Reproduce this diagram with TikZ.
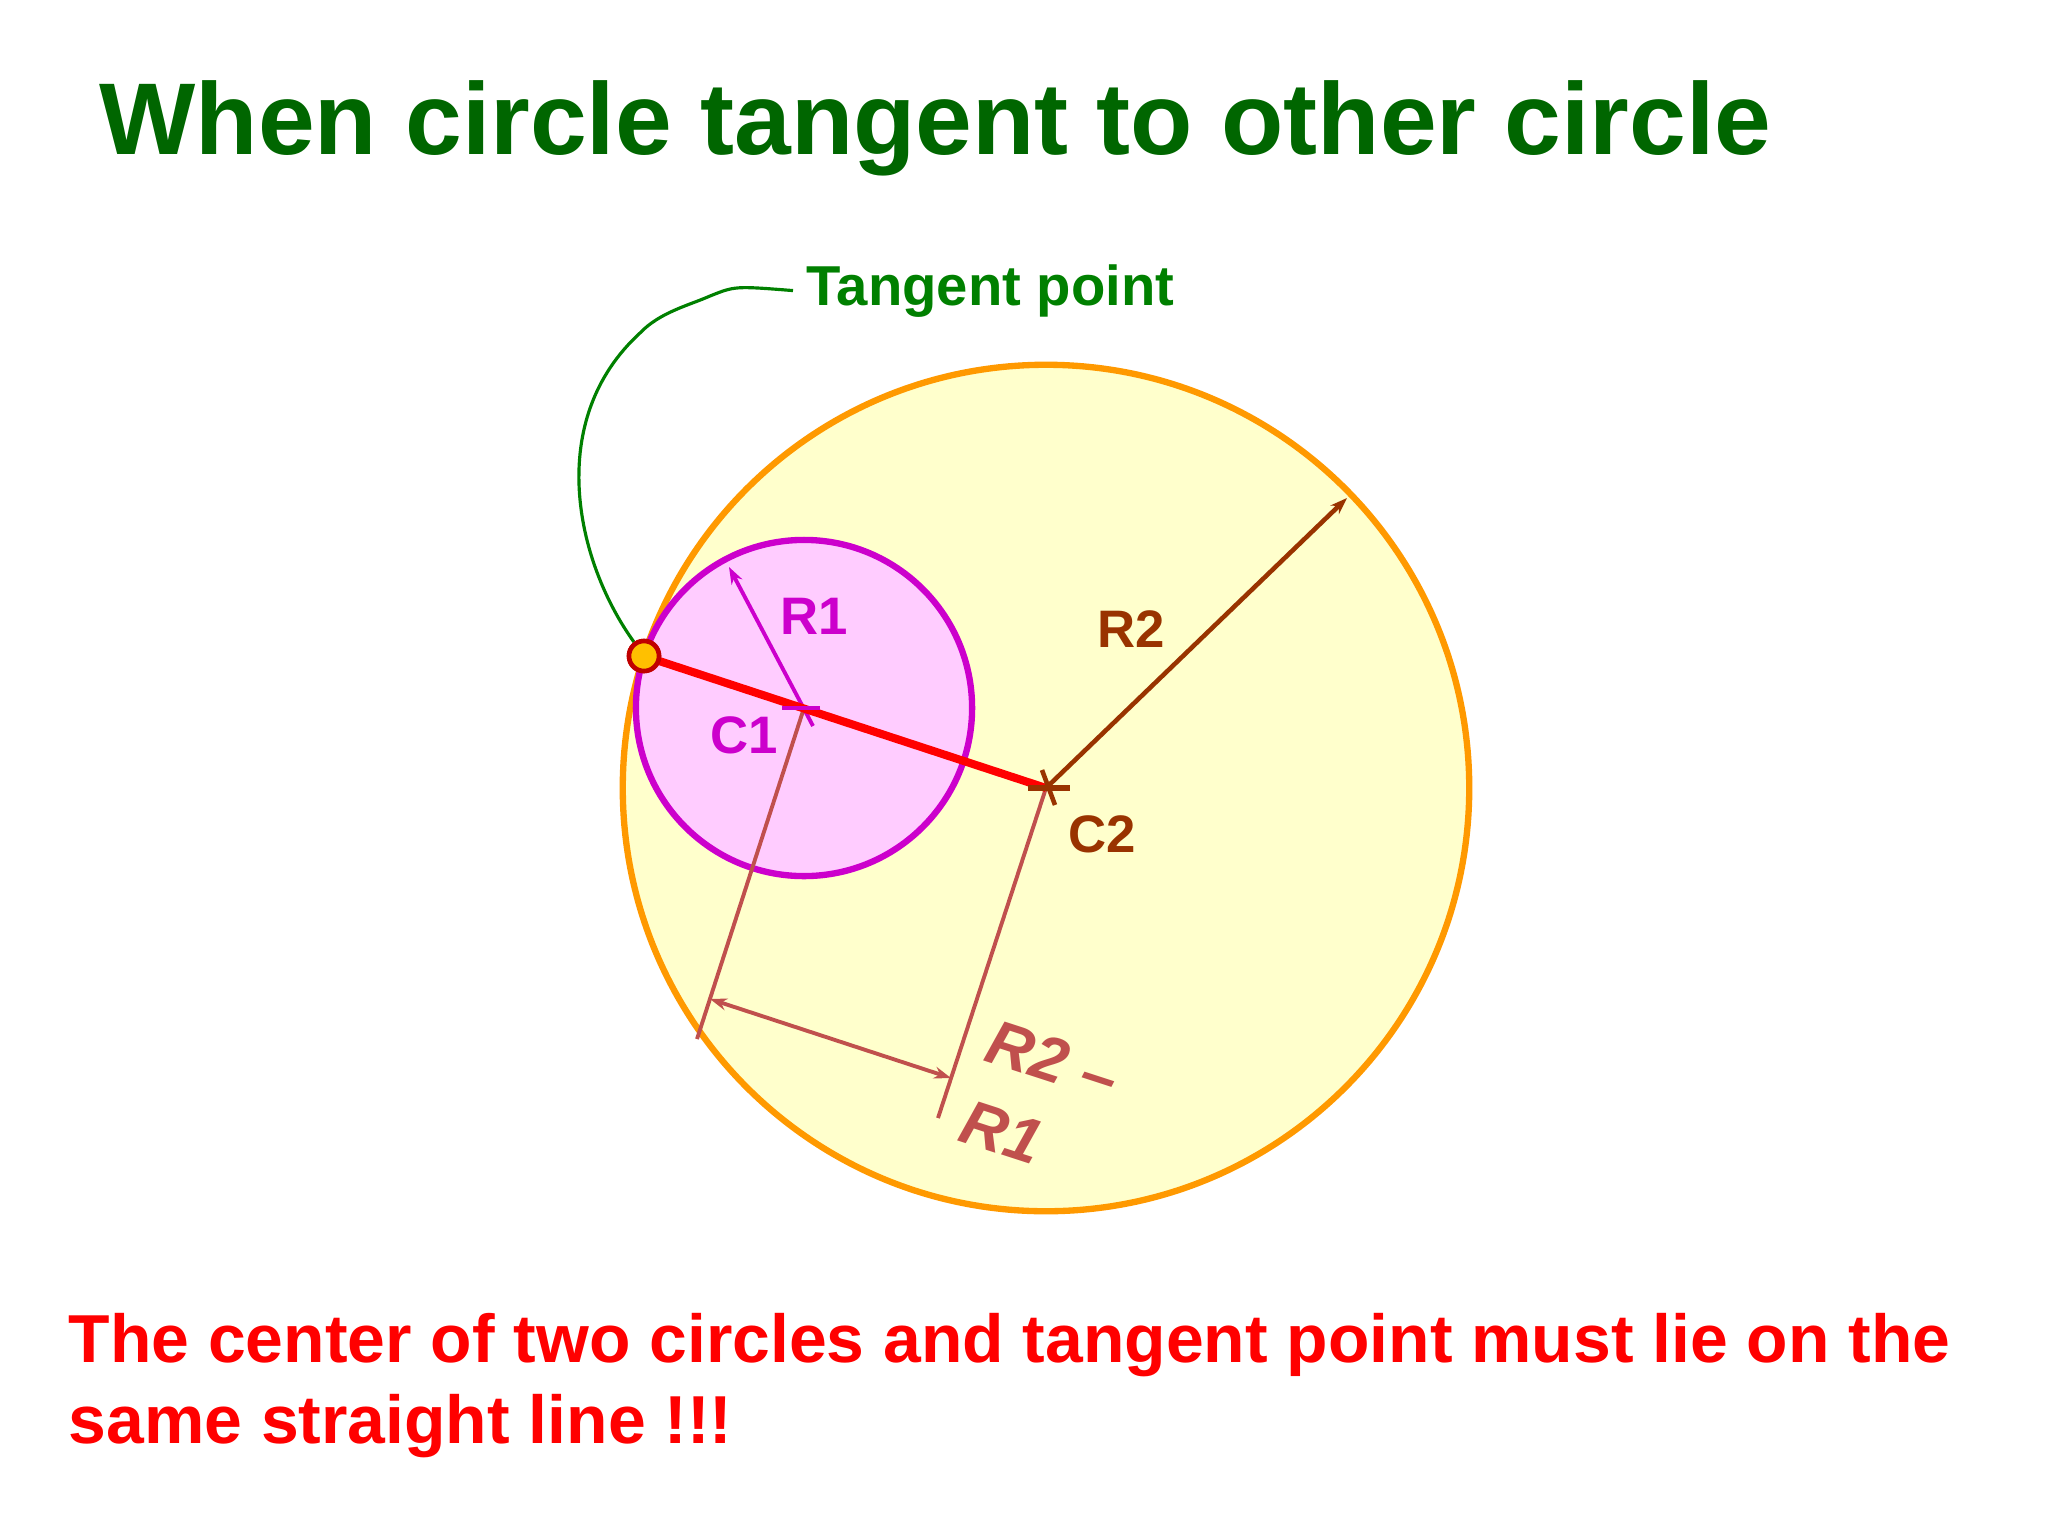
\documentclass[tikz,border=0pt]{standalone}
\usepackage{fontspec}
\setmainfont{Liberation Sans}
\usetikzlibrary{arrows.meta,calc}

\definecolor{titlegreen}{RGB}{0,102,0}
\definecolor{leadgreen}{RGB}{0,128,0}
\definecolor{circorange}{RGB}{255,153,0}
\definecolor{bigfill}{RGB}{255,255,204}
\definecolor{circmag}{RGB}{204,0,204}
\definecolor{smallfill}{RGB}{255,204,255}
\definecolor{rustbrown}{RGB}{153,51,0}
\definecolor{dimred}{RGB}{192,80,77}
\definecolor{markred}{RGB}{192,0,0}
\definecolor{markgold}{RGB}{255,192,0}

\tikzset{
  lbl/.style={font=\fontsize{15}{18}\selectfont\bfseries, inner sep=0pt},
  dimline/.style={draw=dimred, line width=1.1pt},
  tip/.style={-{Stealth[length=0.17cm,width=0.12cm]}}
}

\begin{document}
\begin{tikzpicture}[x=0.01cm,y=-0.01cm]
\useasboundingbox (0,0) rectangle (2048,1536);

\node[anchor=base west, inner sep=0pt, text=titlegreen, font=\fontsize{29}{35}\selectfont\bfseries] (title) at (99,154) {When circle tangent to other circle};

% centres and tangent point
\coordinate (T) at (644,656);
\coordinate (C1) at (804,708);
\coordinate (C2) at (1046,788);

\draw[draw=circorange, fill=bigfill, line width=1.8pt] (C2) circle[radius=4.23cm];
\draw[draw=circmag, fill=smallfill, line width=1.8pt] (C1) circle[radius=1.68cm];

% R2 - R1
\coordinate (E1) at (697,1039);
\coordinate (E2) at (938,1118);
\coordinate (D1) at (710,999);
\coordinate (D2) at (951,1078);
\draw[dimline] (C1) -- (E1);
\draw[dimline] (C2) -- (E2);
\draw[dimline, {Stealth[length=0.17cm,width=0.12cm]}-{Stealth[length=0.17cm,width=0.12cm]}] (D1) -- (D2);
\node[rotate=-18, align=left, inner sep=0pt, text=dimred, font=\fontsize{18}{24}\selectfont\bfseries\itshape] (dlabel) at (1040,1100) {R2 --\\R1};

% radii
\coordinate (R1s) at (813,726);
\coordinate (R1e) at (729,567);
\coordinate (R2e) at (1347,498);
\draw[circmag, line width=1.1pt, tip] (R1s) -- (R1e);
\draw[rustbrown, line width=1.3pt, tip] (C2) -- (R2e);

\draw[red, line width=2.3pt] (T) -- (C2);

% centre marks
\draw[circmag, line width=1.4pt] ($(C1)+(-22,0)$) -- ($(C1)+(16,0)$);
\draw[rustbrown, line width=1.5pt] ($(C2)+(-18,0)$) -- ($(C2)+(24,0)$);
\draw[rustbrown, line width=1.3pt] ($(C2)+(-4,-18)$) -- ($(C2)+(9,17)$);

\node[lbl, text=circmag] (r1) at (814,616) {R1};
\node[lbl, text=circmag] (c1) at (744,735) {C1};
\node[lbl, text=rustbrown] (r2) at (1131,629) {R2};
\node[lbl, text=rustbrown] (c2) at (1102,834) {C2};

% tangent point
\node[anchor=base west, inner xsep=0.13cm, inner ysep=0pt, text=leadgreen, font=\fontsize{16}{19}\selectfont\bfseries] (tlabel) at (793,305) {Tangent point};
\node[circle, draw=markred, fill=markgold, line width=1.3pt, minimum size=0.3cm, inner sep=0pt] (tpt) at (T) {};
\draw[leadgreen, line width=0.9pt] (tpt) .. controls (575,560) and (545,420) .. (640,333)
  .. controls (660,312) and (690,305) .. (710,296) .. controls (735,286) .. (tlabel.west);
\node[circle, draw=markred, fill=markgold, line width=1.3pt, minimum size=0.3cm, inner sep=0pt] at (T) {};

\node[anchor=base west, inner sep=0pt, text=red, font=\fontsize{19.3}{23}\selectfont\bfseries] (note1) at (68,1362) {The center of two circles and tangent point must lie on the};
\node[anchor=base west, inner sep=0pt, text=red, font=\fontsize{19.3}{23}\selectfont\bfseries] (note2) at (68,1443) {same straight line !!!};
\end{tikzpicture}
\end{document}
